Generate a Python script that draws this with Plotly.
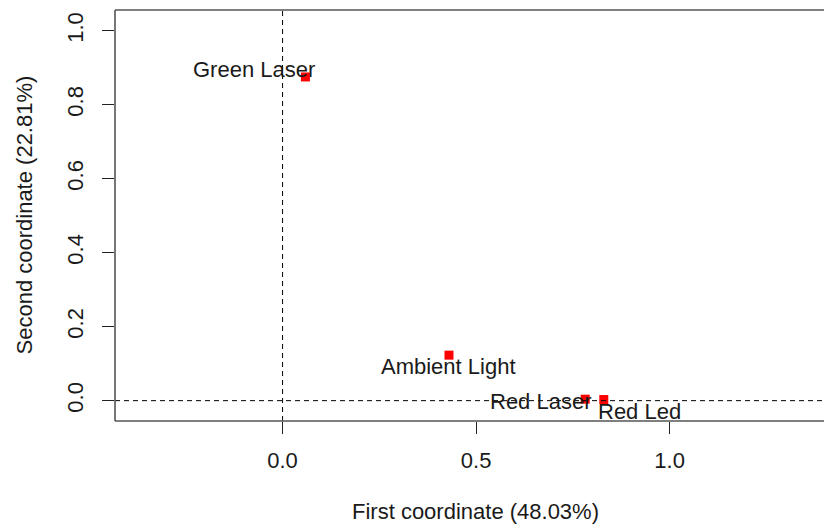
import plotly.graph_objects as go

# Correspondence-analysis style map: first two coordinates of each light source
labels = ["Green Laser", "Ambient Light", "Red Laser", "Red Led"]
coord1 = [0.059, 0.430, 0.782, 0.830]
coord2 = [0.875, 0.123, 0.004, 0.003]

x_ticks = [0.0, 0.5, 1.0]
x_ticklabels = ["0.0", "0.5", "1.0"]
y_ticks = [0.0, 0.2, 0.4, 0.6, 0.8, 1.0]
y_ticklabels = ["0.0", "0.2", "0.4", "0.6", "0.8", "1.0"]

x_title = "First coordinate (48.03%)"
y_title = "Second coordinate (22.81%)"

# label offsets (pixels) relative to each point
label_shift = [(-51, 7), (0, -11), (-44, -2), (36, -11.5)]

FONT = "Liberation Sans, Arial, sans-serif"
FS = 22
TXT = "#1a1a1a"
BOX = "#555555"

fig = go.Figure()

fig.add_trace(go.Scatter(
    x=coord1, y=coord2, mode="markers",
    marker=dict(symbol="square", size=9, color="#ff0000", line=dict(width=0)),
    hoverinfo="text", text=labels, showlegend=False,
))

# reference lines through the origin
fig.add_hline(y=0, line=dict(color="black", width=1, dash="5px,4px"))
fig.add_vline(x=0, line=dict(color="black", width=1, dash="5px,4px"))

for lab, xv, yv, (dx, dy) in zip(labels, coord1, coord2, label_shift):
    fig.add_annotation(
        x=xv, y=yv, text=lab, showarrow=False,
        xanchor="center", yanchor="middle", xshift=dx, yshift=dy,
        font=dict(family=FONT, size=FS, color=TXT),
    )

# plot frame (left, top, bottom)
for x0, y0, x1, y1 in [(0, 0, 0, 1), (0, 1, 1, 1), (0, 0, 1, 0)]:
    fig.add_shape(type="line", xref="paper", yref="paper",
                  x0=x0, y0=y0, x1=x1, y1=y1,
                  line=dict(color=BOX, width=1.6))

fig.add_annotation(
    xref="paper", yref="paper", x=(475 - 115) / (824 - 115), y=0,
    yshift=-90, text=x_title, showarrow=False,
    xanchor="center", yanchor="middle",
    font=dict(family=FONT, size=FS, color=TXT),
)
fig.add_annotation(
    xref="paper", yref="paper", x=0, y=0.5, xshift=-91,
    text=y_title, showarrow=False, textangle=-90,
    xanchor="center", yanchor="middle",
    font=dict(family=FONT, size=FS, color=TXT),
)

fig.update_xaxes(
    range=[-0.433, 1.399], showgrid=False, zeroline=False, showline=False,
    tickmode="array", tickvals=x_ticks, ticktext=x_ticklabels,
    ticks="outside", ticklen=12, tickwidth=1.3, tickcolor="#222",
    ticklabelstandoff=8,
    tickfont=dict(family=FONT, size=FS, color=TXT),
)
fig.update_yaxes(
    range=[-0.055, 1.056], showgrid=False, zeroline=False, showline=False,
    tickmode="array", tickvals=y_ticks, ticktext=y_ticklabels,
    ticks="outside", ticklen=12, tickwidth=1.3, tickcolor="#222",
    tickangle=-90, ticklabelstandoff=10,
    tickfont=dict(family=FONT, size=FS, color=TXT),
)

fig.update_layout(
    width=824, height=525,
    margin=dict(l=115, r=0, t=10, b=104),
    paper_bgcolor="white", plot_bgcolor="white",
)

fig.write_html("out.html")
